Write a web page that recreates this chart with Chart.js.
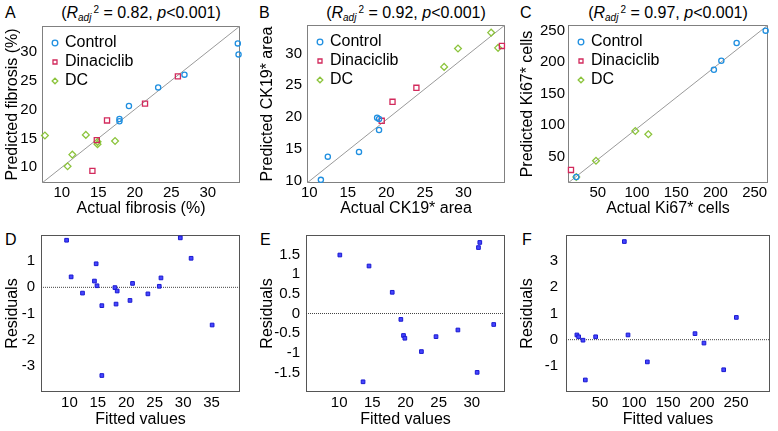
<!DOCTYPE html>
<html>
<head>
    <title>Predicted vs actual, and residuals</title>
    <script src="https://cdn.jsdelivr.net/npm/chart.js"></script>
    <style>
        body { margin: 0; background: #fff; }
        #fig { position: relative; width: 778px; height: 431px; overflow: hidden;
               font-family: 'Liberation Sans', Arial, sans-serif; color: #000; }
        #fig canvas { position: absolute; }
        .txt { position: absolute; font-size: 16px; line-height: 16px; white-space: nowrap; }
        .ttl { text-align: center; }
        .ttl sub, .ttl sup { font-size: 10px; line-height: 0; }
        .ttl sub { vertical-align: -3px; }
        .ttl sup { vertical-align: 5px; margin-left: 2px; }
    </style>
</head>
<body>
<div id="fig">
    <div class="txt" style="left:5px;top:5px">A</div>
    <div class="txt" style="left:259px;top:5px">B</div>
    <div class="txt" style="left:520px;top:5px">C</div>
    <div class="txt" style="left:5px;top:232px">D</div>
    <div class="txt" style="left:260px;top:232px">E</div>
    <div class="txt" style="left:522px;top:232px">F</div>
    <div class="txt ttl" style="left:42px;top:5px;width:198px">(<i>R</i><sub><i>adj</i></sub><sup>2</sup> = 0.82, <i>p</i>&lt;0.001)</div>
    <div class="txt ttl" style="left:307px;top:5px;width:198px">(<i>R</i><sub><i>adj</i></sub><sup>2</sup> = 0.92, <i>p</i>&lt;0.001)</div>
    <div class="txt ttl" style="left:568px;top:5px;width:200px">(<i>R</i><sub><i>adj</i></sub><sup>2</sup> = 0.97, <i>p</i>&lt;0.001)</div>
</div>

<script>
    // A: fibrosis (%), actual vs predicted
    const fibCtrlActual = [34.1, 34.2, 26.8, 23.2, 19.2, 17.9, 17.9];
    const fibCtrlPred   = [31.4, 29.5, 26.0, 23.8, 20.6, 18.35, 17.95];
    const fibDinaActual = [25.9, 21.4, 16.2, 14.8, 14.2];
    const fibDinaPred   = [25.7, 21.0, 18.1, 14.7, 9.4];
    const fibDcActual   = [7.7, 13.3, 11.45, 10.8, 14.9, 14.9, 17.3];
    const fibDcPred     = [15.5, 15.6, 12.2, 10.2, 14.4, 14.0, 14.55];
    const fibRange = [7.3, 34.4];
    const fibTicks = [10, 15, 20, 25, 30];

    // B: CK19* area
    const ckCtrlActual = [11.5, 12.4, 16.45, 18.8, 19.05, 19.05];
    const ckCtrlPred   = [10.1, 13.75, 14.5, 19.9, 19.7, 17.95];
    const ckDinaActual = [19.4, 20.8, 23.9, 35.0];
    const ckDinaPred   = [19.4, 22.4, 24.6, 31.2];
    const ckDcActual   = [27.5, 29.3, 33.6, 34.5];
    const ckDcPred     = [27.9, 30.8, 33.3, 30.9];
    const ckXRange = [9.7, 35.4];
    const ckYRange = [9.6, 34.5];
    const ckTicks = [10, 15, 20, 25, 30];

    // C: Ki67* cells
    const kiCtrlActual = [264, 227, 207.5, 198, 22.6];
    const kiCtrlPred   = [250, 230.4, 202.3, 188, 17.5];
    const kiDinaActual = [15.8];
    const kiDinaPred   = [28.7];
    const kiDcActual   = [22.6, 47.7, 97.8, 114.4];
    const kiDcPred     = [17.5, 43.4, 90.6, 85.4];
    const kiXRange = [12, 267];
    const kiYRange = [8, 259];
    const kiTicks = [50, 100, 150, 200, 250];

    // D-F: residuals against fitted values
    const dFitted = [9.5, 10.3, 12.3, 14.4, 14.7, 14.85, 15.7, 15.7, 18.0, 18.2, 18.4, 20.65, 21.1, 23.8, 25.8, 26.1, 29.5, 31.4, 35.1];
    const dResid  = [1.8, 0.4, -0.22, 0.24, 0.9, 0.06, -0.7, -3.37, -0.01, -0.64, -0.14, -0.5, 0.15, -0.25, 0.04, 0.36, 1.89, 1.11, -1.44];
    const dXRange = [5, 40], dYRange = [-4, 2];
    const dXTicks = [10, 15, 20, 25, 30, 35], dYTicks = [-3, -2, -1, 0, 1];

    const eFitted = [10.1, 14.5, 18.0, 19.3, 19.7, 19.9, 13.6, 22.4, 24.6, 27.9, 30.8, 31.0, 31.2, 33.3];
    const eResid  = [1.49, 1.21, 0.54, -0.15, -0.56, -0.63, -1.74, -0.97, -0.59, -0.42, -1.5, 1.68, 1.81, -0.28];
    const eXRange = [5, 35], eYRange = [-2, 2];
    const eXTicks = [10, 15, 20, 25, 30], eYTicks = [-1.5, -1, -0.5, 0, 0.5, 1, 1.5];

    const fFitted = [16, 18.6, 25, 28.4, 43.6, 85.8, 91.2, 119.6, 189.7, 202.9, 231.9, 250.5];
    const fResid  = [0.18, 0.11, -0.02, -1.54, 0.11, 3.75, 0.18, -0.85, 0.23, -0.13, -1.15, 0.85];
    const fXRange = [0, 300], fYRange = [-2, 4];
    const fXTicks = [50, 100, 150, 200, 250], fYTicks = [-1, 0, 1, 2, 3];

    const groupNames  = ['Control', 'Dinaciclib', 'DC'];
    const groupColors = ['#1f8fe0', '#d22a5c', '#8cc43c'];
    const groupShapes = ['circle', 'rect', 'rectRot'];
    const groupRadius = [2.6, 3.6, 3.4];

    Chart.defaults.font.family = "'Liberation Sans', Arial, sans-serif";
    Chart.defaults.color = '#000';

    // box round the plot area, like the matlab axes
    const frame = {
        id: 'frame',
        beforeDatasetsDraw(chart, args, opts) {
            const a = chart.chartArea, ctx = chart.ctx;
            ctx.save();
            ctx.strokeStyle = opts.color;
            ctx.lineWidth = 1;
            ctx.strokeRect(Math.round(a.left) + 0.5, Math.round(a.top) + 0.5,
                           Math.round(a.right - a.left) - 1, Math.round(a.bottom - a.top) - 1);
            ctx.restore();
        }
    };

    // a chartArea legend gets its top reset to 0, so put it back inside the plot
    const legendNudge = {
        id: 'legendNudge',
        afterLayout(chart, args, opts) {
            const lg = chart.legend, a = chart.chartArea;
            if (lg && lg.options.display) {
                lg.left = a.left + opts.dx;
                lg.top = a.top + opts.dy;
                lg.right = a.right;
                lg.bottom = a.bottom;
            }
        }
    };

    const pts = (xs, ys) => xs.map((x, i) => ({ x: x, y: ys[i] }));

    function axis(pos, range, ticks, title, size, tickPad, titlePad) {
        return {
            type: 'linear', position: pos, min: range[0], max: range[1],
            grid: { display: false, drawTicks: false },
            border: { display: false },
            afterBuildTicks: s => { s.ticks = ticks.map(v => ({ value: v })); },
            afterFit: s => { if (pos === 'left') s.width = size; else s.height = size; },
            ticks: { font: { size: 15 }, color: '#000', padding: tickPad, maxRotation: 0, autoSkip: false,
                     callback: v => String(v) },
            title: { display: true, text: title, font: { size: 16 }, color: '#000', padding: titlePad }
        };
    }

    function makePanel(p) {
        const c = document.createElement('canvas');
        c.width = p.box.w; c.height = p.box.h;
        c.style.left = p.box.left + 'px'; c.style.top = p.box.top + 'px';
        document.getElementById('fig').appendChild(c);

        new Chart(c, {
            type: 'scatter',
            data: { datasets: p.datasets },
            options: {
                responsive: false, animation: false, events: [],
                layout: { padding: { left: 0, bottom: 0, top: p.plot.t - p.box.top,
                                     right: p.box.left + p.box.w - p.plot.r } },
                scales: {
                    x: axis('bottom', p.xRange, p.xTicks, p.xTitle, p.box.top + p.box.h - p.plot.b,
                            p.xTickPad, { top: 0, bottom: p.xTitlePad }),
                    y: axis('left', p.yRange, p.yTicks, p.yTitle, p.plot.l - p.box.left,
                            p.yTickPad, { top: 3, bottom: 0 })
                },
                plugins: {
                    legend: p.legend ? {
                        display: true, position: 'chartArea', align: 'start',
                        labels: { usePointStyle: true, boxWidth: 4, boxHeight: 4, padding: 3,
                                  font: { size: 16 }, color: '#000',
                                  filter: item => item.datasetIndex < 3 }
                    } : { display: false },
                    tooltip: { enabled: false },
                    frame: { color: p.frameColor },
                    legendNudge: { dx: 8, dy: 6 }
                }
            },
            plugins: [frame, legendNudge]
        });
    }

    function groupSets(actuals, preds, xRange, yRange) {
        const sets = actuals.map((xs, g) => ({
            label: groupNames[g],
            data: pts(xs, preds[g]),
            pointStyle: groupShapes[g],
            pointRadius: groupRadius[g],
            borderColor: groupColors[g],
            backgroundColor: 'rgba(0,0,0,0)',
            borderWidth: 1.3,
            clip: false
        }));
        sets.push({
            label: 'fit',
            data: [{ x: xRange[0], y: yRange[0] }, { x: xRange[1], y: yRange[1] }],
            showLine: true, borderColor: '#9a9a9a', borderWidth: 1, pointRadius: 0
        });
        return sets;
    }

    function residSets(fitted, resid, xRange) {
        return [{
            label: 'residuals',
            data: pts(fitted, resid),
            pointStyle: 'rect', pointRadius: 2.6,
            backgroundColor: '#4545ff', borderColor: '#1a1ad0', borderWidth: 1,
            clip: false
        }, {
            label: 'zero',
            data: [{ x: xRange[0], y: 0 }, { x: xRange[1], y: 0 }],
            showLine: true, borderColor: '#444', borderWidth: 1, borderDash: [1, 1], pointRadius: 0
        }];
    }

    makePanel({
        box: { left: 0, top: 0, w: 256, h: 222 }, plot: { l: 42, t: 26, r: 240, b: 183 },
        xRange: fibRange, yRange: fibRange, xTicks: fibTicks, yTicks: fibTicks,
        xTitle: 'Actual fibrosis (%)', yTitle: 'Predicted fibrosis (%)',
        xTickPad: 1, xTitlePad: 4, yTickPad: 5, legend: true, frameColor: '#808080',
        datasets: groupSets([fibCtrlActual, fibDinaActual, fibDcActual],
                            [fibCtrlPred, fibDinaPred, fibDcPred], fibRange, fibRange)
    });

    makePanel({
        box: { left: 255, top: 0, w: 256, h: 222 }, plot: { l: 307, t: 25, r: 505, b: 183 },
        xRange: ckXRange, yRange: ckYRange, xTicks: ckTicks, yTicks: ckTicks,
        xTitle: 'Actual CK19* area', yTitle: 'Predicted CK19* area',
        xTickPad: 1, xTitlePad: 4, yTickPad: 5, legend: true, frameColor: '#808080',
        datasets: groupSets([ckCtrlActual, ckDinaActual, ckDcActual],
                            [ckCtrlPred, ckDinaPred, ckDcPred], ckXRange, ckYRange)
    });

    makePanel({
        box: { left: 515, top: 0, w: 263, h: 222 }, plot: { l: 568, t: 25, r: 768, b: 183 },
        xRange: kiXRange, yRange: kiYRange, xTicks: kiTicks, yTicks: kiTicks,
        xTitle: 'Actual Ki67* cells', yTitle: 'Predicted Ki67* cells',
        xTickPad: 1, xTitlePad: 4, yTickPad: 3, legend: true, frameColor: '#808080',
        datasets: groupSets([kiCtrlActual, kiDinaActual, kiDcActual],
                            [kiCtrlPred, kiDinaPred, kiDcPred], kiXRange, kiYRange)
    });

    makePanel({
        box: { left: 0, top: 215, w: 256, h: 216 }, plot: { l: 41, t: 235, r: 240, b: 392 },
        xRange: dXRange, yRange: dYRange, xTicks: dXTicks, yTicks: dYTicks,
        xTitle: 'Fitted values', yTitle: 'Residuals',
        xTickPad: 2, xTitlePad: 2, yTickPad: 6, legend: false, frameColor: '#555',
        datasets: residSets(dFitted, dResid, dXRange)
    });

    makePanel({
        box: { left: 255, top: 215, w: 256, h: 216 }, plot: { l: 306, t: 235, r: 505, b: 392 },
        xRange: eXRange, yRange: eYRange, xTicks: eXTicks, yTicks: eYTicks,
        xTitle: 'Fitted values', yTitle: 'Residuals',
        xTickPad: 2, xTitlePad: 2, yTickPad: 6, legend: false, frameColor: '#555',
        datasets: residSets(eFitted, eResid, eXRange)
    });

    makePanel({
        box: { left: 515, top: 215, w: 263, h: 216 }, plot: { l: 566, t: 235, r: 770, b: 392 },
        xRange: fXRange, yRange: fYRange, xTicks: fXTicks, yTicks: fYTicks,
        xTitle: 'Fitted values', yTitle: 'Residuals',
        xTickPad: 2, xTitlePad: 2, yTickPad: 8, legend: false, frameColor: '#555',
        datasets: residSets(fFitted, fResid, fXRange)
    });
</script>
</body>
</html>
